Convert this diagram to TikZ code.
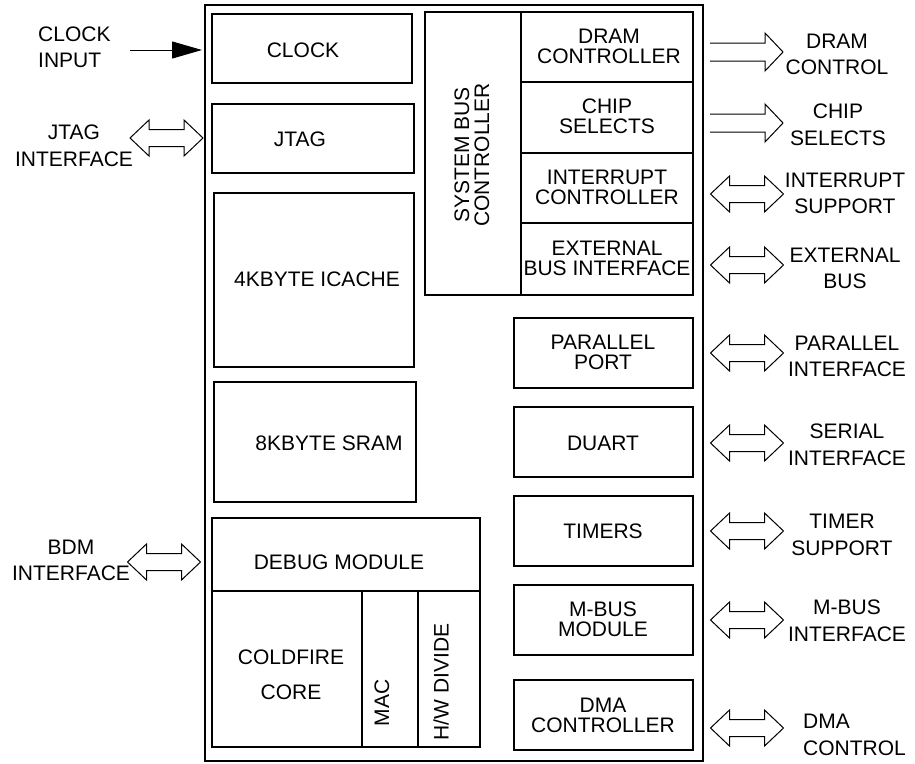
\documentclass[tikz,border=0pt]{standalone}
\usepackage{fontspec}
\setmainfont{Liberation Sans}
\usetikzlibrary{arrows.meta,fit}
\tikzset{
  boxn/.style={draw, line width=2.2pt, inner sep=0pt, outer sep=0pt},
  outerbox/.style={draw, line width=2pt, inner sep=0pt, outer sep=0pt},
  divline/.style={line width=2.2pt},
  txt/.style={inner sep=0pt, align=center, font=\fontsize{21}{20}\selectfont},
  lbl/.style={inner sep=0pt, align=center, font=\fontsize{21}{26.5}\selectfont},
  arrowline/.style={draw, line width=1pt, line join=miter},
  dblarrow/.pic={\draw[arrowline] (-36.5,0) -- (-17.5,-18) -- (-17.5,-8.5) -- (17.5,-8.5) -- (17.5,-18) -- (36.5,0) -- (17.5,18) -- (17.5,8.5) -- (-17.5,8.5) -- (-17.5,18) -- cycle;},
  sglarrow/.pic={\draw[arrowline] (-36.5,-9) -- (18.5,-9) -- (18.5,-19) -- (36.5,0) -- (18.5,19) -- (18.5,9) -- (-36.5,9);}
}
\begin{document}
\begin{tikzpicture}[x=1pt,y=-1pt]
\useasboundingbox (0,0) rectangle (915,763);
% outer chip
\node[outerbox, fit={(205,5) (703,761)}] (chip) {};
% left column
\node[boxn, fit={(212,14) (412,83)}] (clock) {};
\node[txt] (clockt) at (303,50) {CLOCK};
\node[boxn, fit={(212,104) (414,173)}] (jtag) {};
\node[txt] (jtagt) at (300,139) {JTAG};
\node[boxn, fit={(214,193) (414,367)}] (icache) {};
\node[txt] (icachet) at (317,279) {4KBYTE ICACHE};
\node[boxn, fit={(214,382) (416,502)}] (sram) {};
\node[txt] (sramt) at (329,443) {8KBYTE SRAM};
\node[boxn, fit={(212,518) (480,591)}] (debug) {};
\node[txt] (debugt) at (339,562) {DEBUG MODULE};
\node[boxn, fit={(212,591) (480,747)}] (core) {};
\draw[divline] (362,591) -- (362,747);
\draw[divline] (418,591) -- (418,747);
\node[txt] (coret1) at (291,657) {COLDFIRE};
\node[txt] (coret2) at (291,692) {CORE};
\node[txt, rotate=90] (mact) at (382,703) {MAC};
\node[txt, rotate=90] (hwdt) at (441,682) {H/W DIVIDE};
% system bus controller
\node[boxn, fit={(425,12) (693,295)}] (sbc) {};
\draw[divline] (521,12) -- (521,295);
\draw[divline] (521,82) -- (693,82);
\draw[divline] (521,153) -- (693,153);
\draw[divline] (521,223) -- (693,223);
\node[txt, rotate=90] (sbct) at (472,155) {SYSTEM BUS\\CONTROLLER};
\node[txt] (dramt) at (609,46) {DRAM\\CONTROLLER};
\node[txt] (chipt) at (607,116.5) {CHIP\\SELECTS};
\node[txt] (intt) at (607,187) {INTERRUPT\\CONTROLLER};
\node[txt] (extt) at (607,258) {EXTERNAL\\BUS INTERFACE};
% right column
\node[boxn, fit={(514,318) (693,388)}] (ppt) {};
\node[txt] (pptt) at (603,352.5) {PARALLEL\\PORT};
\node[boxn, fit={(514,407) (693,477)}] (duart) {};
\node[txt] (duartt) at (603,443) {DUART};
\node[boxn, fit={(514,496) (693,566)}] (timers) {};
\node[txt] (timerst) at (603,531) {TIMERS};
\node[boxn, fit={(514,585) (693,655)}] (mbus) {};
\node[txt] (mbust) at (603,619.5) {M-BUS\\MODULE};
\node[boxn, fit={(514,680) (693,750)}] (dma) {};
\node[txt] (dmat) at (603,715) {DMA\\CONTROLLER};
% left labels and arrows
\node[lbl, align=left, anchor=west] (clkin) at (38,47.5) {CLOCK\\INPUT};
\coordinate (clkA) at (130,50);
\coordinate (clkB) at (202,50);
\draw[line width=1pt, -{Triangle[length=30pt,width=17pt]}] (clkA) -- (clkB);
\node[lbl] (jtagin) at (74,146) {JTAG\\INTERFACE};
\pic at (166.5,138) {dblarrow};
\node[lbl] (bdmin) at (71,560.5) {BDM\\INTERFACE};
\pic at (164,562) {dblarrow};
% right labels and arrows
\pic at (746.5,52) {sglarrow};
\node[lbl] (dramo) at (837,54.5) {DRAM\\CONTROL};
\pic at (746.5,123) {sglarrow};
\node[lbl] (chipo) at (838,125) {CHIP\\SELECTS};
\pic at (747,194) {dblarrow};
\node[lbl] (into) at (845,193.5) {INTERRUPT\\SUPPORT};
\pic at (747,265) {dblarrow};
\node[lbl] (exto) at (845,268.5) {EXTERNAL\\BUS};
\pic at (747,353) {dblarrow};
\node[lbl] (ppto) at (847,356.5) {PARALLEL\\INTERFACE};
\pic at (747,443) {dblarrow};
\node[lbl] (sero) at (847,445) {SERIAL\\INTERFACE};
\pic at (747,531) {dblarrow};
\node[lbl] (timo) at (842,535) {TIMER\\SUPPORT};
\pic at (747,620) {dblarrow};
\node[lbl] (mbuso) at (847,621) {M-BUS\\INTERFACE};
\pic at (747,728) {dblarrow};
\node[lbl, align=left, anchor=west] (dmao) at (803,735) {DMA\\CONTROL};
\end{tikzpicture}
\end{document}
